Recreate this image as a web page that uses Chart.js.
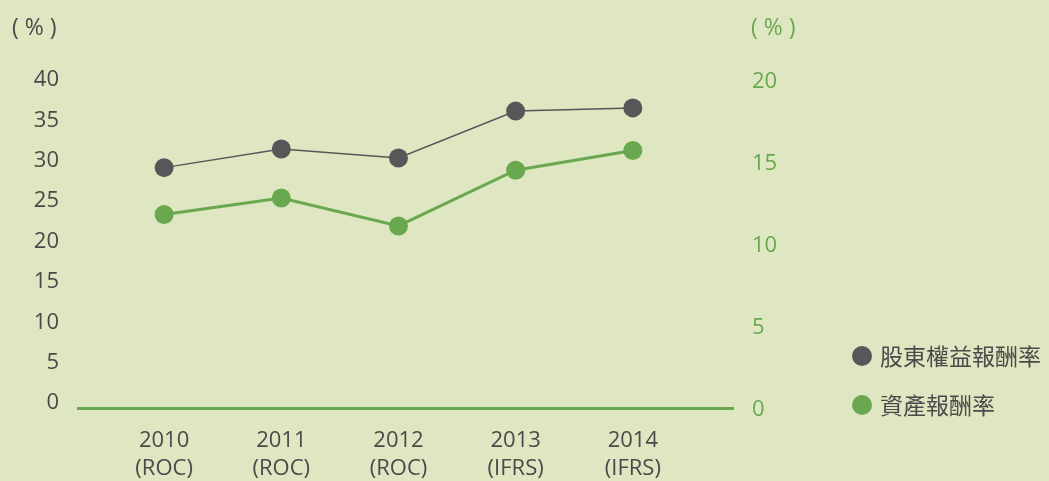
<!DOCTYPE html>
<html>
<head>
<meta charset="utf-8">
<script src="https://cdn.jsdelivr.net/npm/chart.js@4/dist/chart.umd.min.js"></script>
<style>
    html, body { margin: 0; padding: 0; background: #dee7c1; }
    #wrap { width: 1049px; height: 481px; position: relative; }
</style>
</head>
<body>
<div id="wrap"><canvas id="roeChart"></canvas></div>
<script>
// data
const years = ["2010", "2011", "2012", "2013", "2014"];
const standards = ["(ROC)", "(ROC)", "(ROC)", "(IFRS)", "(IFRS)"];
const roe = [28.9, 31.2, 30.1, 35.9, 36.3];   // 股東權益報酬率, left axis
const roa = [11.8, 12.8, 11.1, 14.5, 15.7];   // 資產報酬率, right axis
const leftTicks = [0, 5, 10, 15, 20, 25, 30, 35, 40];
const rightTicks = [0, 5, 10, 15, 20];
const seriesNames = ["股東權益報酬率", "資產報酬率"];

const grey = '#575659';
const green = '#6aa84f';
const textGrey = '#4a4a4a';
const latin = '"Open Sans", "Noto Sans", sans-serif';
const cjk = '"Noto Sans CJK TC", "Noto Sans CJK SC", sans-serif';

// unit labels and legend drawn on canvas
const extras = {
    id: 'extras',
    afterDraw(chart) {
        const ctx = chart.ctx;
        ctx.save();
        ctx.textBaseline = 'middle';
        ctx.textAlign = 'left';
        ctx.font = '23px ' + latin;
        ctx.fillStyle = textGrey;
        ctx.fillText('( % )', 12, 28);
        ctx.fillStyle = green;
        ctx.fillText('( % )', 751, 28);

        const items = [
            { name: seriesNames[0], color: grey, y: 356 },
            { name: seriesNames[1], color: green, y: 405 }
        ];
        items.forEach(it => {
            ctx.beginPath();
            ctx.fillStyle = it.color;
            ctx.arc(862, it.y, 10, 0, Math.PI * 2);
            ctx.fill();
            ctx.fillStyle = textGrey;
            ctx.font = '23px ' + cjk;
            ctx.fillText(it.name, 880, it.y);
        });
        ctx.restore();
    }
};

new Chart(document.getElementById('roeChart'), {
    type: 'line',
    data: {
        datasets: [{
            label: seriesNames[0],
            data: roe.map((v, i) => ({ x: i, y: v })),
            yAxisID: 'yLeft',
            borderColor: grey,
            backgroundColor: grey,
            borderWidth: 1.5,
            pointRadius: 9.5,
            pointHoverRadius: 9.5,
            pointBorderWidth: 0
        }, {
            label: seriesNames[1],
            data: roa.map((v, i) => ({ x: i, y: v })),
            yAxisID: 'yRight',
            borderColor: green,
            backgroundColor: green,
            borderWidth: 3,
            pointRadius: 9.5,
            pointHoverRadius: 9.5,
            pointBorderWidth: 0
        }]
    },
    options: {
        responsive: true,
        maintainAspectRatio: false,
        animation: false,
        layout: { padding: { top: 78, right: 256, bottom: 0, left: 0 } },
        plugins: {
            legend: { display: false },
            tooltip: { enabled: false }
        },
        scales: {
            x: {
                type: 'linear',
                min: -0.735,
                max: 4.855,
                afterBuildTicks: scale => {
                    scale.ticks = years.map((_, i) => ({ value: i }));
                },
                afterFit: scale => { scale.height = 73; },
                grid: { display: false, drawTicks: false },
                border: { display: true, color: green, width: 3 },
                ticks: {
                    padding: 19,
                    color: textGrey,
                    font: { family: latin, size: 22, lineHeight: 1.27 },
                    maxRotation: 0,
                    autoSkip: false,
                    callback: v => [years[v], standards[v]]
                }
            },
            yLeft: {
                type: 'linear',
                position: 'left',
                min: -0.867,
                max: 40,
                afterBuildTicks: scale => {
                    scale.ticks = leftTicks.map(v => ({ value: v }));
                },
                afterFit: scale => { scale.width = 78; },
                grid: { display: false, drawTicks: false },
                border: { display: false },
                ticks: {
                    padding: 19,
                    labelOffset: 2,
                    color: textGrey,
                    font: { family: latin, size: 22 }
                }
            },
            yRight: {
                type: 'linear',
                position: 'right',
                min: 0,
                max: 20.12,
                afterBuildTicks: scale => {
                    scale.ticks = rightTicks.map(v => ({ value: v }));
                },
                afterFit: scale => { scale.width = 60; },
                grid: { display: false, drawTicks: false },
                border: { display: false },
                ticks: {
                    padding: 19,
                    labelOffset: 2,
                    color: green,
                    font: { family: latin, size: 22 }
                }
            }
        }
    },
    plugins: [extras]
});
</script>
</body>
</html>
